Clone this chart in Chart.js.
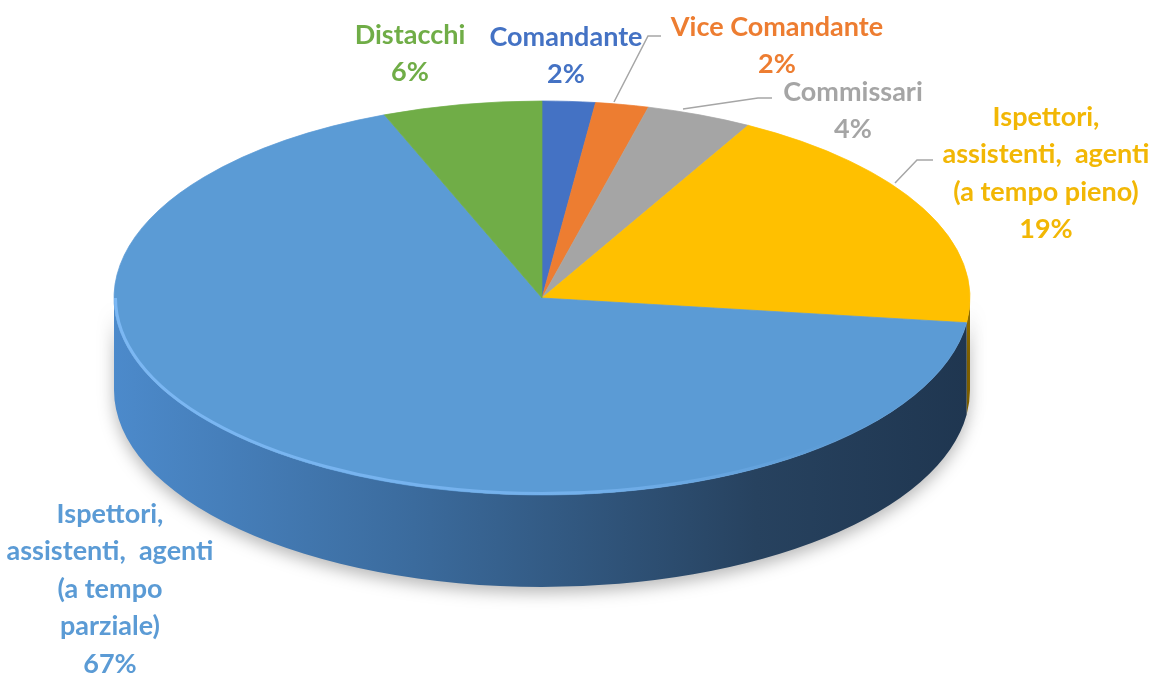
<!DOCTYPE html>
<html>
<head>
<meta charset="utf-8">
<script src="https://cdn.jsdelivr.net/npm/chart.js@4"></script>
<style>
  html, body { margin: 0; padding: 0; background: #fff; }
  #wrap { width: 1158px; height: 695px; }
</style>
</head>
<body>
<div id="wrap"><canvas id="chart"></canvas></div>
<script>
// slices, clockwise from 12 o'clock
const categories = [
  'Comandante',
  'Vice Comandante',
  'Commissari',
  'Ispettori, assistenti, agenti (a tempo pieno)',
  'Ispettori, assistenti, agenti (a tempo parziale)',
  'Distacchi',
];
const shares = [2, 2, 4, 19, 67, 6];
const labelLines = [
  ['Comandante'],
  ['Vice Comandante'],
  ['Commissari'],
  ['Ispettori,', 'assistenti,  agenti', '(a tempo pieno)'],
  ['Ispettori,', 'assistenti,  agenti', '(a tempo', 'parziale)'],
  ['Distacchi'],
];

const topColors = ['#4472c4', '#ed7d31', '#a5a5a5', '#ffc000', '#5b9bd5', '#70ad47'];
const textColors = ['#4472c4', '#ed7d31', '#a5a5a5', '#f2b705', '#5b9bd5', '#70ad47'];
// side wall gradient, left -> right
const sideColors = [
  ['#34559a', '#22385f'],
  ['#c0621f', '#7a3c12'],
  ['#8a8a8a', '#555555'],
  ['#d9a300', '#8c6a00'],
  ['#4c8acb', '#1f3650'],
  ['#5c9139', '#36561f'],
];

// layout of the 3d disc (screen px)
const CX = 542;
const CY = 298;
const RY = 197;
const DEPTH = 92;
const LINE_H = 37.5;
// label anchors: centre x, y of first line
const labelPos = [[566, 37], [777, 27], [853, 92], [1046, 117], [110, 514], [410, 35]];
const leaders = [
  null,
  [[614, 102], [648, 36], [661, 36]],
  [[683, 109], [758, 98], [772, 98]],
  [[895, 183], [917, 160], [933, 160]],
  null,
  null,
];

function sideWalls(chart) {
  const { ctx } = chart;
  const arcs = chart.getDatasetMeta(0).data;
  const rx = arcs[0].outerRadius;
  ctx.save();
  ctx.shadowColor = 'rgba(0,0,0,0.28)';
  ctx.shadowBlur = 16;
  ctx.shadowOffsetY = 6;
  arcs.forEach((arc, i) => {
    // only the front half (0..PI) of the wall is visible
    const a0 = Math.max(arc.startAngle, 0);
    const a1 = Math.min(arc.endAngle, Math.PI);
    if (a1 <= a0) return;
    const grad = ctx.createLinearGradient(CX - rx, 0, CX + rx, 0);
    grad.addColorStop(0, sideColors[i][0]);
    grad.addColorStop(0.35, i === 4 ? '#3b6b9d' : sideColors[i][0]);
    grad.addColorStop(0.75, i === 4 ? '#27425f' : sideColors[i][1]);
    grad.addColorStop(1, sideColors[i][1]);
    ctx.beginPath();
    ctx.ellipse(CX, CY, rx, RY, 0, a0, a1);
    ctx.lineTo(CX + rx * Math.cos(a1), CY + DEPTH + RY * Math.sin(a1));
    ctx.ellipse(CX, CY + DEPTH, rx, RY, 0, a1, a0, true);
    ctx.closePath();
    ctx.fillStyle = grad;
    ctx.fill();
  });
  ctx.restore();
}

const tilt = {
  id: 'tilt',
  beforeDatasetsDraw(chart) {
    const { ctx } = chart;
    const arc = chart.getDatasetMeta(0).data[0];
    sideWalls(chart);
    ctx.save();
    ctx.translate(CX, CY);
    ctx.scale(1, RY / arc.outerRadius);
    ctx.translate(-arc.x, -arc.y);
  },
  afterDatasetsDraw(chart) {
    const { ctx } = chart;
    ctx.restore();
    const arcs = chart.getDatasetMeta(0).data;
    const rx = arcs[0].outerRadius;

    // light rim along the front edge of the top face
    const rim = ctx.createLinearGradient(CX - rx, 0, CX + rx, 0);
    rim.addColorStop(0, 'rgba(125,185,245,0.95)');
    rim.addColorStop(0.55, 'rgba(125,185,245,0.7)');
    rim.addColorStop(0.85, 'rgba(125,185,245,0)');
    ctx.save();
    ctx.beginPath();
    ctx.ellipse(CX, CY, rx - 1.5, RY - 1.5, 0, 0.2, Math.PI);
    ctx.strokeStyle = rim;
    ctx.lineWidth = 3;
    ctx.stroke();
    ctx.restore();

    // leader lines
    ctx.save();
    ctx.strokeStyle = '#a6a6a6';
    ctx.lineWidth = 1.5;
    leaders.forEach((pts) => {
      if (!pts) return;
      ctx.beginPath();
      pts.forEach(([x, y], j) => (j ? ctx.lineTo(x, y) : ctx.moveTo(x, y)));
      ctx.stroke();
    });
    ctx.restore();

    // data labels
    const total = shares.reduce((a, b) => a + b, 0);
    ctx.save();
    ctx.font = 'bold 27px Lato, "Open Sans", sans-serif';
    ctx.textAlign = 'center';
    ctx.textBaseline = 'middle';
    labelLines.forEach((lines, i) => {
      const [x, y] = labelPos[i];
      const pct = `${Math.round((shares[i] / total) * 100)}%`;
      ctx.fillStyle = textColors[i];
      [...lines, pct].forEach((t, j) => ctx.fillText(t, x, y + j * LINE_H));
    });
    ctx.restore();
  },
};

new Chart(document.getElementById('chart'), {
  type: 'pie',
  data: {
    labels: categories,
    datasets: [{
      data: shares,
      backgroundColor: topColors,
      borderColor: topColors,
      borderWidth: 1,
    }],
  },
  options: {
    responsive: true,
    maintainAspectRatio: false,
    animation: false,
    radius: 428,
    events: [],
    plugins: {
      legend: { display: false },
      tooltip: { enabled: false },
    },
  },
  plugins: [tilt],
});
</script>
</body>
</html>
